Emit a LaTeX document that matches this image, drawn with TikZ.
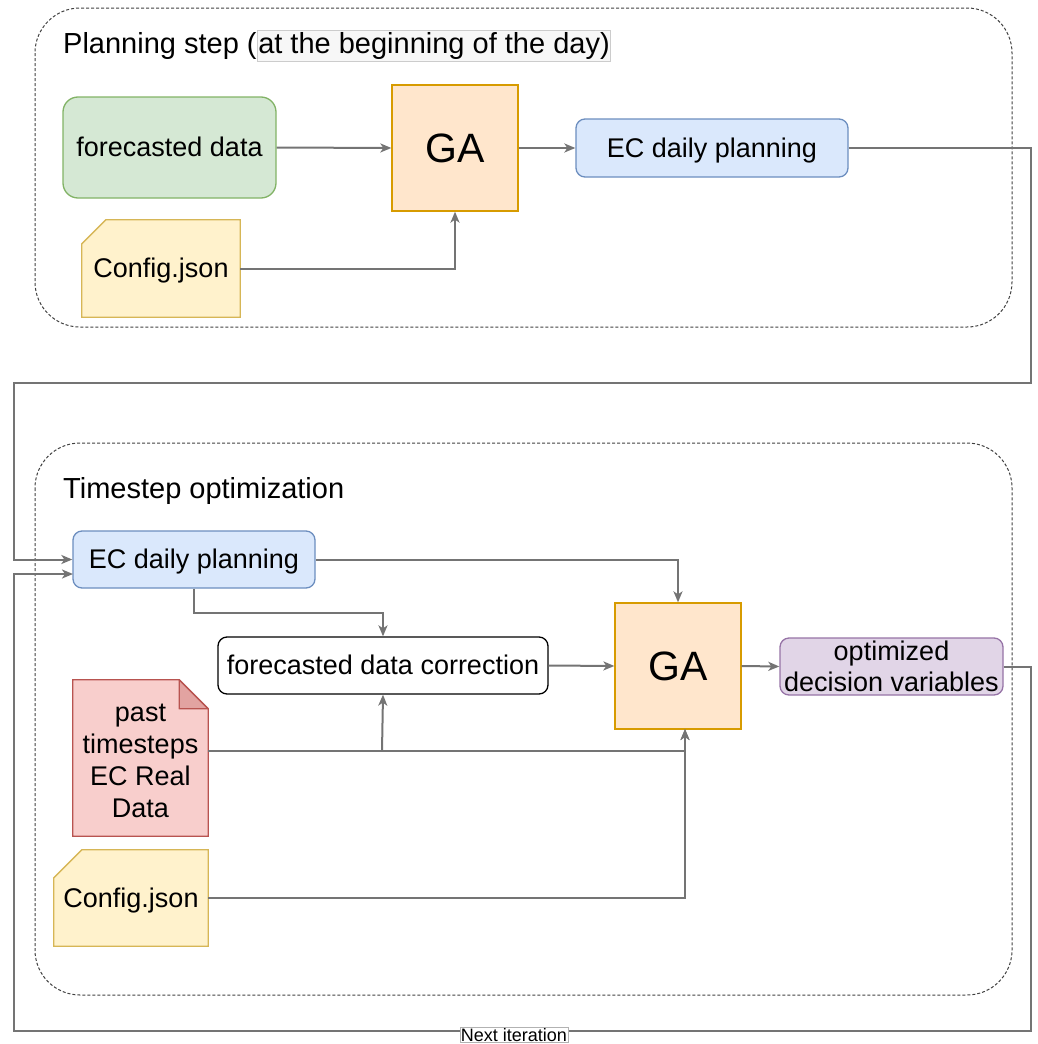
\documentclass[tikz,border=0pt]{standalone}
\usepackage{fontspec}
\setmainfont{Liberation Sans}
\usetikzlibrary{arrows.meta}
\usetikzlibrary{backgrounds}

\definecolor{linegray}{HTML}{747474}
\definecolor{greenfill}{HTML}{D5E8D4}
\definecolor{greenline}{HTML}{82B366}
\definecolor{orangefill}{HTML}{FFE6CC}
\definecolor{orangeline}{HTML}{D79B00}
\definecolor{bluefill}{HTML}{DAE8FC}
\definecolor{blueline}{HTML}{6C8EBF}
\definecolor{yellowfill}{HTML}{FFF2CC}
\definecolor{yellowline}{HTML}{D6B656}
\definecolor{redfill}{HTML}{F8CECC}
\definecolor{redline}{HTML}{B85450}
\definecolor{purplefill}{HTML}{E1D5E7}
\definecolor{purpleline}{HTML}{9673A6}

\begin{document}
\begin{tikzpicture}
	[x=1pt, y=-1pt,
	 frame/.style={draw=black!75, line width=1pt, dash pattern=on 3pt off 2pt, rounded corners=45pt},
	 title/.style={inner sep=0pt, font=\fontsize{29}{34}\selectfont},
	 box/.style={line width=1.3pt, rounded corners=9pt, inner sep=0pt, align=center, font=\fontsize{27}{31}\selectfont},
	 oneline/.style={text height=24pt, text depth=6pt},
	 ga/.style={draw=orangeline, fill=orangefill, line width=1.3pt, minimum width=126pt, minimum height=126pt, font=\fontsize{41}{45}\selectfont},
	 plain/.style={inner sep=0pt, align=center, font=\fontsize{27}{32}\selectfont},
	 line/.style={draw=linegray, line width=2pt},
	 arrow/.style={line, -{Stealth[length=11pt,width=9pt,inset=3pt]}}];

	\useasboundingbox (0,0) rectangle (1038,1044);

	%Containers
	\draw[frame] (35,8) rectangle (1012,327);
	\draw[frame] (35,443) rectangle (1012,995);

	%Planning step
	\node[title, anchor=base west] (ttl1) at (63,53) {Planning step (};
	\node[title, anchor=base west, fill=black!3, draw=black!20, line width=0.8pt, inner xsep=1pt, inner ysep=2pt] (ttl1b) at (ttl1.base east) {at the beginning of the day)};

	\node[box, oneline, draw=greenline, fill=greenfill, rounded corners=15pt, minimum width=213pt, minimum height=101pt] (fc) at (169.5,147.5) {forecasted data};
	\node[ga] (ga1) at (455,148) {GA};
	\node[box, oneline, draw=blueline, fill=bluefill, minimum width=272pt, minimum height=58pt] (ec1) at (712,148) {EC daily planning};
	\node[plain, oneline, minimum width=158pt, minimum height=97pt] (cfg1) at (161,268.5) {Config.json};

	%Timestep optimization
	\node[title, anchor=base west] (ttl2) at (63,498) {Timestep optimization};

	\node[box, oneline, draw=blueline, fill=bluefill, minimum width=242pt, minimum height=57pt] (ec2) at (194,559.5) {EC daily planning};
	\node[box, oneline, draw=black, fill=white, minimum width=330pt, minimum height=57pt] (corr) at (383,665.5) {forecasted data correction};
	\node[ga] (ga2) at (678,666) {GA};
	\node[box, draw=purpleline, fill=purplefill, minimum width=223pt, minimum height=57pt] (opt) at (891.5,666.5) {optimized\\decision variables};
	\node[plain, minimum width=135pt, minimum height=156pt] (note) at (140.5,758) {};
	\node[plain, anchor=center] (notetext) at (140.5,761) {past\\timesteps\\EC Real\\Data};
	\node[plain, oneline, minimum width=154pt, minimum height=96pt] (cfg2) at (131,898) {Config.json};

	%Card and note outlines
	\begin{scope}[on background layer]
		\draw[draw=yellowline, fill=yellowfill, line width=1.3pt] ([yshift=-24pt]cfg1.north west) -- ([xshift=24pt]cfg1.north west) -- (cfg1.north east) -- (cfg1.south east) -- (cfg1.south west) -- cycle;
		\draw[draw=yellowline, fill=yellowfill, line width=1.3pt] ([yshift=-28pt]cfg2.north west) -- ([xshift=28pt]cfg2.north west) -- (cfg2.north east) -- (cfg2.south east) -- (cfg2.south west) -- cycle;
		\draw[draw=redline, fill=redfill, line width=1.3pt] (note.north west) -- ([xshift=-29pt]note.north east) -- ([yshift=-29pt]note.north east) -- (note.south east) -- (note.south west) -- cycle;
		\draw[draw=redline, fill=redline!35!redfill, line width=1.3pt, line join=round] ([xshift=-29pt]note.north east) -- ([xshift=-29pt,yshift=-29pt]note.north east) -- ([yshift=-29pt]note.north east) -- cycle;
	\end{scope}

	%Connectors
	\coordinate (r1) at (1031,383);
	\coordinate (l1) at (14,383);
	\coordinate (r2) at (1031,1031);
	\coordinate (l2) at (14,1031);
	\coordinate (ec2in) at (73,574);
	\coordinate (tap) at (382,751);
	\coordinate (ga2in) at (685,729);

	\draw[arrow] (fc.east) -- (ga1.west);
	\draw[arrow] (ga1.east) -- (ec1.west);
	\draw[arrow] (cfg1.east) -| (ga1.south);
	\draw[arrow] (ec1.east) -| (r1) -- (l1) |- (ec2.west);

	\draw[arrow] (ec2.east) -| (ga2.north);
	\draw[arrow] (ec2.south) -- ++(0,24) -| (corr.north);
	\draw[arrow] (corr.east) -- (ga2.west);
	\draw[arrow] (ga2.east) -- (opt.west);
	\draw[arrow] (note.east |- tap) -| (ga2in);
	\draw[arrow] (tap) -- (corr.south);
	\draw[arrow] (cfg2.east) -| (ga2in);
	\draw[arrow] (opt.east) -| (r2) -- (l2) |- (ec2in);
	\node[fill=white, draw=black!30, line width=0.6pt, inner xsep=1pt, inner ysep=1pt, anchor=north, font=\fontsize{18}{20}\selectfont] (nxt) at (514,1027) {Next iteration};
\end{tikzpicture}
\end{document}
